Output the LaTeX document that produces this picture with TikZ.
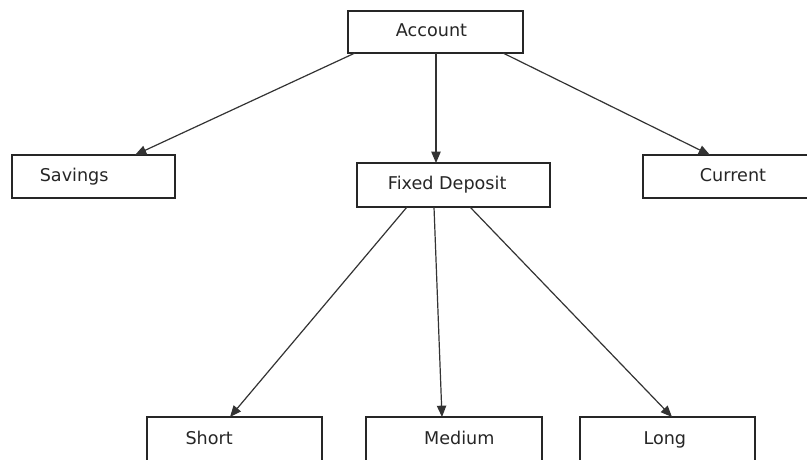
\documentclass[tikz,border=0pt]{standalone}
\usepackage{fontspec}
\setmainfont{DejaVu Sans}
\usetikzlibrary{arrows.meta}
\tikzset{
  bx/.style={draw=black!85, line width=1.2pt, anchor=north west, outer sep=0pt,
    inner sep=0pt, text=black!85, text height=9.6pt, text depth=2.6pt,
    font=\fontsize{13.2}{16}\selectfont},
  openbx/.style={bx, draw=none},
  edge/.style={draw=black!85, line width=1.2pt},
  conn/.style={draw=black!80, line width=0.9pt, -{Triangle[length=8.5pt,width=7pt]}}
}
\begin{document}
\begin{tikzpicture}[x=0.75pt,y=-0.75pt]
\useasboundingbox (0,0) rectangle (807,460);
\begin{scope}
\clip (0,0) rectangle (807,460);
\fill[white] (0,0) rectangle (807,460);
\node[bx, minimum width=131.25pt, minimum height=31.5pt] (acc) at (348,11) {Account\hspace*{6pt}};
\node[bx, minimum width=122.25pt, minimum height=32.25pt] (sav) at (12,155) {Savings\hspace*{29pt}};
\node[bx, minimum width=144.75pt, minimum height=33pt] (fd) at (357,163) {Fixed Deposit\hspace*{9.5pt}};
\node[openbx, minimum width=135pt, minimum height=32.25pt] (cur) at (643,155) {Current};
\draw[edge] (cur.north east) -- (cur.north west) -- (cur.south west) -- (cur.south east);
\node[openbx, minimum width=131.25pt, minimum height=33.75pt] (sh) at (147,417) {Short\hspace*{38pt}};
\node[openbx, minimum width=132pt, minimum height=33.75pt] (med) at (366,417) {\hspace*{8pt}Medium};
\node[openbx, minimum width=131.25pt, minimum height=33.75pt] (lng) at (580,417) {Long\hspace*{4pt}};
\foreach \b in {sh,med,lng}
  \draw[edge] (\b.south west) -- (\b.north west) -- (\b.north east) -- (\b.south east);
\draw[conn] ([xshift=5.25pt]acc.south west) -- ([xshift=92.25pt]sav.north west);
\draw[conn] ([xshift=66pt]acc.south west) -- ([xshift=59.25pt]fd.north west);
\draw[conn] ([xshift=116.25pt]acc.south west) -- ([xshift=50.25pt]cur.north west);
\draw[conn] ([xshift=37.5pt]fd.south west) -- ([xshift=62.25pt]sh.north west);
\draw[conn] ([xshift=57.75pt]fd.south west) -- ([xshift=57pt]med.north west);
\draw[conn] ([xshift=84.75pt]fd.south west) -- ([xshift=69pt]lng.north west);
\end{scope}
\end{tikzpicture}
\end{document}
